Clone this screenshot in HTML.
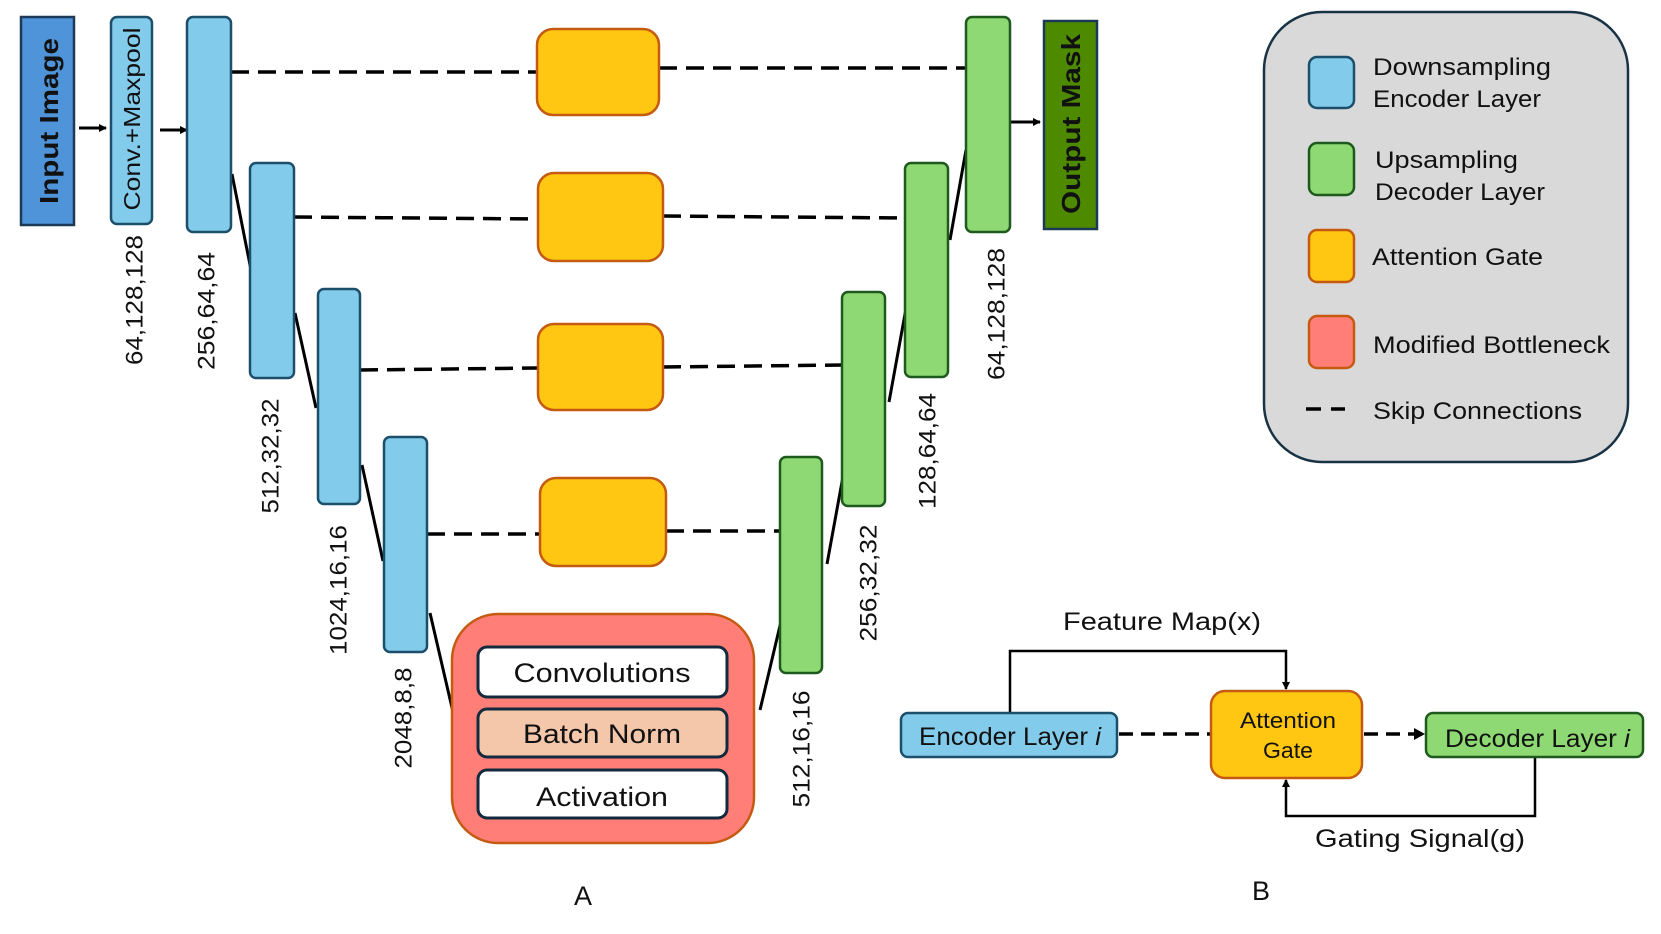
<!DOCTYPE html>
<html><head><meta charset="utf-8"><style>html,body{margin:0;padding:0;background:#fff}svg{display:block}text{font-family:"Liberation Sans",sans-serif;fill:#111}</style></head>
<body>
<svg width="1661" height="934" viewBox="0 0 1661 934" xmlns="http://www.w3.org/2000/svg">
<defs>
<marker id="ah" markerWidth="8" markerHeight="8" refX="7" refY="4" orient="auto" markerUnits="userSpaceOnUse"><path d="M0,0 L8,4 L0,8 z" fill="#000"/></marker>
<marker id="ah2" markerWidth="12" markerHeight="12" refX="10" refY="6" orient="auto" markerUnits="userSpaceOnUse"><path d="M0,0 L11,6 L0,12 z" fill="#000"/></marker>
</defs>
<g stroke="#000" stroke-width="3.5" stroke-dasharray="18,9" fill="none">
<line x1="231" y1="72" x2="537" y2="72"/><line x1="659" y1="68" x2="966" y2="68"/>
<line x1="294" y1="217" x2="538" y2="219"/><line x1="663" y1="216" x2="905" y2="218"/>
<line x1="360" y1="370" x2="538" y2="368"/><line x1="663" y1="367" x2="842" y2="365"/>
<line x1="427" y1="534" x2="540" y2="534"/><line x1="666" y1="531" x2="780" y2="531"/>
</g>
<g stroke="#000" stroke-width="3" fill="none">
<line x1="232" y1="174" x2="251" y2="270"/><line x1="295" y1="313" x2="316" y2="408"/>
<line x1="362" y1="465" x2="383" y2="561"/><line x1="430" y1="613" x2="453" y2="712"/>
<line x1="966" y1="150" x2="950" y2="240"/><line x1="907" y1="303" x2="889" y2="402"/>
<line x1="846" y1="460" x2="827" y2="564"/><line x1="783" y1="613" x2="760" y2="710"/>
</g>
<g stroke="#000" stroke-width="3" marker-end="url(#ah)">
<line x1="79" y1="128" x2="106" y2="128"/><line x1="160" y1="130" x2="187" y2="130"/><line x1="1011" y1="122" x2="1040" y2="122"/>
</g>
<rect x="21" y="17" width="53" height="208" fill="#4f93d8" stroke="#1c3a58" stroke-width="2.5"/>
<text transform="translate(49,121) rotate(-90)" text-anchor="middle" dominant-baseline="central" font-size="26" font-weight="bold" textLength="166" lengthAdjust="spacingAndGlyphs">Input Image</text>
<rect x="111" y="17" width="41" height="207" rx="6" fill="#83cbeb" stroke="#1b4f6b" stroke-width="2.5"/>
<text transform="translate(132,119) rotate(-90)" text-anchor="middle" dominant-baseline="central" font-size="23" textLength="183" lengthAdjust="spacingAndGlyphs">Conv.+Maxpool</text>
<g fill="#83cbeb" stroke="#1b4f6b" stroke-width="2.5">
<rect x="187" y="17" width="44" height="215" rx="6"/><rect x="250" y="163" width="44" height="215" rx="6"/>
<rect x="318" y="289" width="42" height="215" rx="6"/><rect x="384" y="437" width="43" height="215" rx="6"/>
</g>
<g fill="#8ed973" stroke="#1e5a1e" stroke-width="2.5">
<rect x="966" y="17" width="44" height="215" rx="6"/><rect x="905" y="163" width="43" height="214" rx="6"/>
<rect x="842" y="292" width="43" height="214" rx="6"/><rect x="780" y="457" width="42" height="216" rx="6"/>
</g>
<rect x="1044" y="21" width="53" height="208" fill="#4e8a00" stroke="#1c3a58" stroke-width="2.5"/>
<text transform="translate(1071,124) rotate(-90)" text-anchor="middle" dominant-baseline="central" font-size="26" font-weight="bold" textLength="180" lengthAdjust="spacingAndGlyphs">Output Mask</text>
<g fill="#ffc612" stroke="#c55a11" stroke-width="2.5">
<rect x="537" y="29" width="122" height="86" rx="16"/><rect x="538" y="173" width="125" height="88" rx="16"/>
<rect x="538" y="324" width="125" height="86" rx="16"/><rect x="540" y="478" width="126" height="88" rx="16"/>
</g>
<g font-size="24" text-anchor="middle" dominant-baseline="central">
<text transform="translate(135,300) rotate(-90)" textLength="130" lengthAdjust="spacingAndGlyphs">64,128,128</text>
<text transform="translate(207,311) rotate(-90)" textLength="118" lengthAdjust="spacingAndGlyphs">256,64,64</text>
<text transform="translate(271,456) rotate(-90)" textLength="115" lengthAdjust="spacingAndGlyphs">512,32,32</text>
<text transform="translate(339,590) rotate(-90)" textLength="130" lengthAdjust="spacingAndGlyphs">1024,16,16</text>
<text transform="translate(404,718) rotate(-90)" textLength="101" lengthAdjust="spacingAndGlyphs">2048,8,8</text>
<text transform="translate(802,749) rotate(-90)" textLength="117" lengthAdjust="spacingAndGlyphs">512,16,16</text>
<text transform="translate(869,583) rotate(-90)" textLength="117" lengthAdjust="spacingAndGlyphs">256,32,32</text>
<text transform="translate(928,451) rotate(-90)" textLength="116" lengthAdjust="spacingAndGlyphs">128,64,64</text>
<text transform="translate(997,314) rotate(-90)" textLength="132" lengthAdjust="spacingAndGlyphs">64,128,128</text>
</g>
<rect x="452" y="614" width="302" height="229" rx="46" fill="#ff7f78" stroke="#c55a11" stroke-width="2.5"/>
<g stroke="#13293d" stroke-width="3">
<rect x="478" y="647" width="249" height="50" rx="9" fill="#fff"/>
<rect x="478" y="709" width="249" height="48" rx="9" fill="#f4c6aa"/>
<rect x="478" y="770" width="249" height="48" rx="9" fill="#fff"/>
</g>
<g font-size="27" text-anchor="middle">
<text x="602" y="682" textLength="177" lengthAdjust="spacingAndGlyphs">Convolutions</text>
<text x="602" y="743" textLength="158" lengthAdjust="spacingAndGlyphs">Batch Norm</text>
<text x="602" y="806" textLength="132" lengthAdjust="spacingAndGlyphs">Activation</text>
<text x="583" y="905">A</text>
<text x="1261" y="900">B</text>
</g>
<rect x="1264" y="12" width="364" height="450" rx="58" fill="#d9d9d9" stroke="#1a3344" stroke-width="2.5"/>
<rect x="1309" y="57" width="45" height="51" rx="8" fill="#83cbeb" stroke="#1b4f6b" stroke-width="2.5"/>
<rect x="1309" y="143" width="45" height="52" rx="8" fill="#8ed973" stroke="#1e5a1e" stroke-width="2.5"/>
<rect x="1309" y="230" width="45" height="52" rx="8" fill="#ffc612" stroke="#c55a11" stroke-width="2.5"/>
<rect x="1309" y="316" width="45" height="52" rx="8" fill="#ff7f78" stroke="#c55a11" stroke-width="2.5"/>
<line x1="1306" y1="409" x2="1345" y2="409" stroke="#000" stroke-width="3.5" stroke-dasharray="15,10"/>
<g font-size="24">
<text x="1373" y="75" textLength="178" lengthAdjust="spacingAndGlyphs">Downsampling</text>
<text x="1373" y="107" textLength="168" lengthAdjust="spacingAndGlyphs">Encoder Layer</text>
<text x="1375" y="168" textLength="143" lengthAdjust="spacingAndGlyphs">Upsampling</text>
<text x="1375" y="200" textLength="170" lengthAdjust="spacingAndGlyphs">Decoder Layer</text>
<text x="1372" y="265" textLength="171" lengthAdjust="spacingAndGlyphs">Attention Gate</text>
<text x="1373" y="353" textLength="237" lengthAdjust="spacingAndGlyphs">Modified Bottleneck</text>
<text x="1373" y="419" textLength="209" lengthAdjust="spacingAndGlyphs">Skip Connections</text>
</g>
<g fill="none" stroke="#000" stroke-width="2.5">
<polyline points="1010,713 1010,651 1286,651 1286,689" marker-end="url(#ah)"/>
<polyline points="1535,757 1535,816 1286,816 1286,780" marker-end="url(#ah)"/>
</g>
<line x1="1119" y1="734" x2="1211" y2="734" stroke="#000" stroke-width="3.5" stroke-dasharray="14,8"/>
<line x1="1364" y1="734" x2="1424" y2="734" stroke="#000" stroke-width="3.5" stroke-dasharray="14,8" marker-end="url(#ah2)"/>
<rect x="901" y="713" width="216" height="44" rx="7" fill="#83cbeb" stroke="#1b4f6b" stroke-width="2.5"/>
<rect x="1426" y="713" width="217" height="44" rx="7" fill="#8ed973" stroke="#1e5a1e" stroke-width="2.5"/>
<rect x="1211" y="691" width="151" height="87" rx="14" fill="#ffc612" stroke="#c55a11" stroke-width="2.5"/>
<g font-size="25">
<text x="919" y="745" textLength="182" lengthAdjust="spacingAndGlyphs">Encoder Layer <tspan font-style="italic">i</tspan></text>
<text x="1445" y="747" textLength="185" lengthAdjust="spacingAndGlyphs">Decoder Layer <tspan font-style="italic">i</tspan></text>
<text x="1063" y="630" textLength="198" lengthAdjust="spacingAndGlyphs">Feature Map(x)</text>
<text x="1315" y="847" textLength="210" lengthAdjust="spacingAndGlyphs">Gating Signal(g)</text>
</g>
<g font-size="22" text-anchor="middle">
<text x="1288" y="728" textLength="96" lengthAdjust="spacingAndGlyphs">Attention</text>
<text x="1288" y="758" textLength="50" lengthAdjust="spacingAndGlyphs">Gate</text>
</g>
</svg>
</body></html>
